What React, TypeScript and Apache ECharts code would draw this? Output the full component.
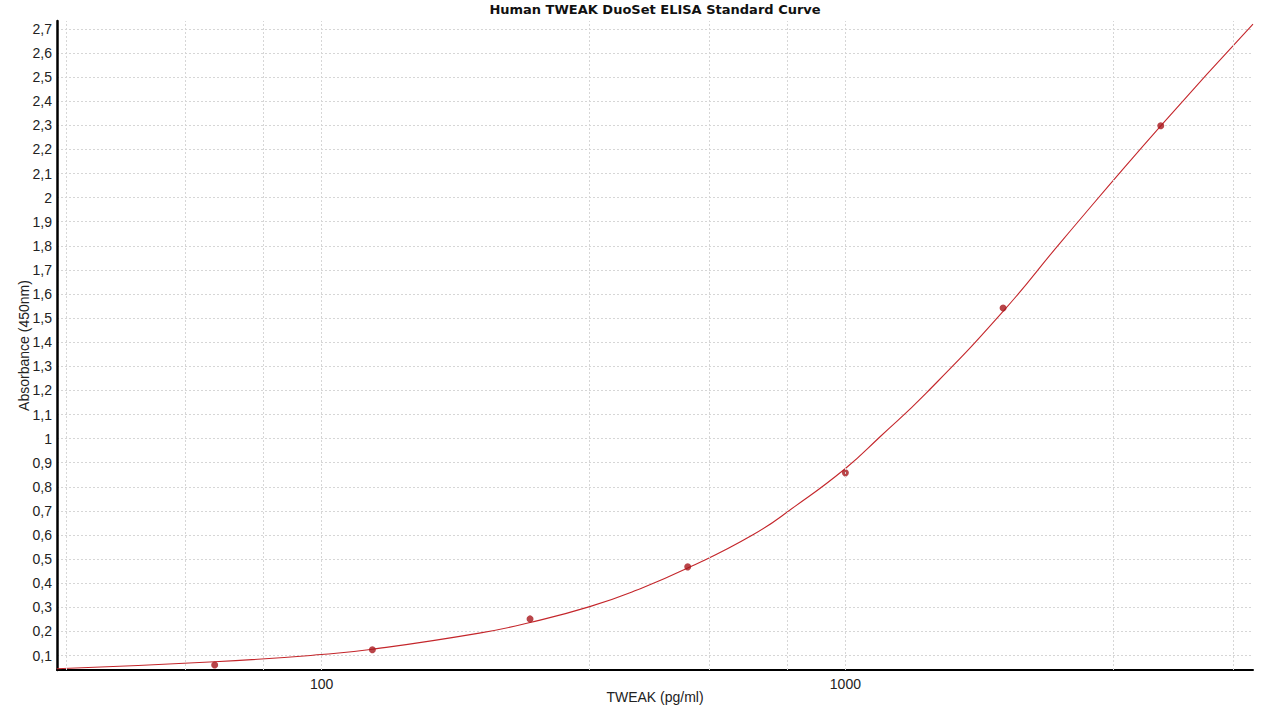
import React, { useEffect, useRef } from 'react';
import * as echarts from 'echarts';

// standards (pg/ml) and measured absorbance
const standardConc = [62.5, 125, 250, 500, 1000, 2000, 4000];
const standardAbs = [0.061, 0.124, 0.252, 0.468, 0.858, 1.542, 2.298];

// fitted curve
const curveConc = [31.25, 62.5, 100, 125, 200, 250, 325, 400, 500, 666, 800, 1000, 1166, 1428, 2000, 2600, 4000, 6000];
const curveAbs = [0.045, 0.074, 0.104, 0.126, 0.193, 0.237, 0.303, 0.372, 0.463, 0.601, 0.718, 0.876, 1.009, 1.19, 1.528, 1.825, 2.298, 2.72];

// vertical grid lines (x values)
const xGridLines = [32.5, 55, 77.5, 100, 325, 550, 775, 1000, 3250, 5500];

const gridColor = '#d6d6d6';
const font = '"Liberation Sans", Arial, sans-serif';

export default function App() {
  const chartRef = useRef<HTMLDivElement>(null);

  useEffect(() => {
    if (!chartRef.current) return;
    document.body.style.margin = '0';
    const chart = echarts.init(chartRef.current, null, { renderer: 'svg' });

    const option: echarts.EChartsOption = {
      animation: false,
      backgroundColor: '#fff',
      title: {
        text: 'Human TWEAK DuoSet ELISA Standard Curve',
        left: 655,
        top: 3,
        padding: 0,
        textAlign: 'center',
        textStyle: {
          fontFamily: '"DejaVu Sans", Verdana, sans-serif',
          fontWeight: 'bold',
          fontSize: 13,
          color: '#111'
        }
      },
      grid: {
        left: 57,
        right: 12,
        top: 21,
        bottom: 39,
        outerBoundsMode: 'none'
      } as any,
      xAxis: {
        type: 'log',
        logBase: 10,
        min: 31.25,
        max: 6000,
        name: 'TWEAK (pg/ml)',
        nameLocation: 'middle',
        nameGap: 20,
        nameMoveOverlap: false,
        nameTextStyle: { fontFamily: font, fontSize: 14, color: '#222' },
        axisLine: { lineStyle: { color: '#000', width: 2 } },
        axisTick: { show: false },
        axisLabel: {
          fontFamily: font,
          fontSize: 14,
          color: '#222',
          margin: 7,
          showMinLabel: false,
          showMaxLabel: false,
          formatter: (v: number) => String(Math.round(v))
        },
        splitLine: { show: false }
      } as any,
      yAxis: {
        type: 'value',
        min: 0.04,
        max: 2.733,
        splitNumber: 27,
        minInterval: 0.1,
        maxInterval: 0.1,
        name: 'Absorbance (450nm)',
        nameLocation: 'middle',
        nameGap: 26,
        nameMoveOverlap: false,
        nameTextStyle: { fontFamily: font, fontSize: 14, color: '#222' },
        axisLine: { show: true, lineStyle: { color: '#000', width: 2.5 } },
        axisTick: { show: false },
        axisLabel: {
          fontFamily: font,
          fontSize: 14,
          color: '#222',
          margin: 5,
          showMinLabel: false,
          showMaxLabel: false,
          formatter: (v: number) => String(Math.round(v * 10) / 10).replace('.', ',')
        },
        splitLine: {
          show: true,
          showMinLine: false,
          showMaxLine: false,
          lineStyle: { color: gridColor, type: [2, 2], width: 1 }
        }
      } as any,
      series: [
        {
          name: 'grid',
          type: 'line',
          data: [],
          z: 1,
          silent: true,
          markLine: {
            silent: true,
            symbol: 'none',
            label: { show: false },
            lineStyle: { color: gridColor, type: [2, 2], width: 1 },
            data: xGridLines.map(x => ({ xAxis: x }))
          }
        },
        {
          name: 'Fit',
          type: 'line',
          z: 3,
          smooth: 0.5,
          showSymbol: false,
          lineStyle: { color: '#c4262b', width: 1.1 },
          data: curveConc.map((x, i) => [x, curveAbs[i]])
        },
        {
          name: 'Standards',
          type: 'scatter',
          z: 4,
          symbolSize: 7,
          itemStyle: { color: '#a8161c' },
          data: standardConc.map((x, i) => [x, standardAbs[i]])
        }
      ]
    };

    chart.setOption(option);
    return () => {
      chart.dispose();
    };
  }, []);

  return <div ref={chartRef} style={{ width: 1265, height: 709 }} />;
}
